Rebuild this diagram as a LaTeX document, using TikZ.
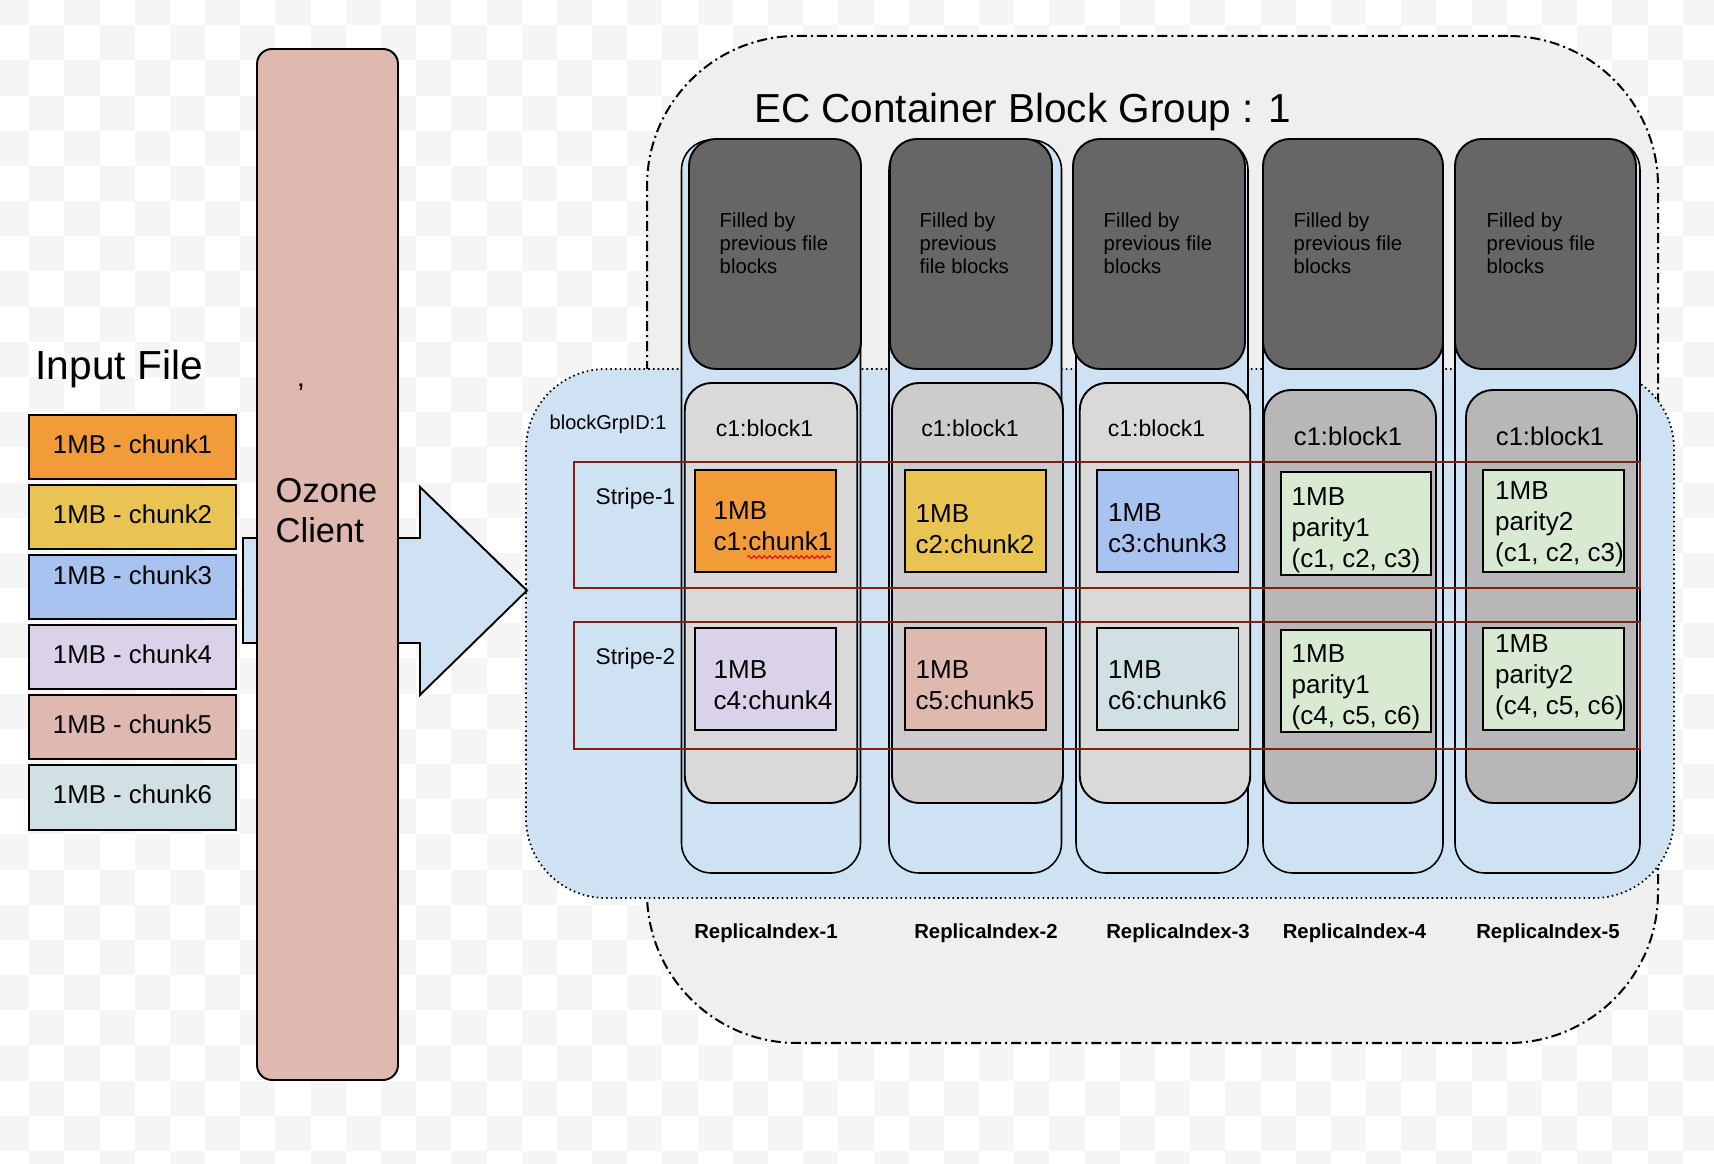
\documentclass[tikz,border=0pt]{standalone}
\usepackage{fontspec}
\setmainfont{Liberation Sans}
\usetikzlibrary{decorations.pathmorphing}
\definecolor{chk}{HTML}{F5F5F5}
\definecolor{grpgrey}{HTML}{EFEFEF}
\definecolor{lblue}{HTML}{CFE2F3}
\definecolor{dgrey}{HTML}{666666}
\definecolor{bgrey1}{HTML}{D9D9D9}
\definecolor{bgrey2}{HTML}{CCCCCC}
\definecolor{bgrey3}{HTML}{B7B7B7}
\definecolor{corange}{HTML}{F29B39}
\definecolor{cyellow}{HTML}{EAC452}
\definecolor{cblue}{HTML}{A8C3EF}
\definecolor{cpurple}{HTML}{D9D2E9}
\definecolor{cred}{HTML}{DFB9B0}
\definecolor{ccyan}{HTML}{D0E0E3}
\definecolor{cgreen}{HTML}{D9EAD3}
\definecolor{stripered}{HTML}{85200C}

\begin{document}
\begin{tikzpicture}
  [y=-1cm, every node/.style={inner sep=0pt}, % y runs downwards, 1 unit = 100 px of the drawing
   box/.style={rectangle, draw=black, line width=0.55pt},
   inchunk/.style={box, minimum width=2.07cm, minimum height=0.64cm, text depth=0.06cm, font=\fontsize{7.34pt}{8.8pt}\selectfont},
   column/.style={draw=black, line width=0.45pt, fill=lblue, rounded corners=0.3cm, minimum height=7.33cm},
   prevblk/.style={draw=black, line width=0.55pt, fill=dgrey, rounded corners=0.27cm, minimum height=2.30cm},
   prevtxt/.style={anchor=north west, align=left, font=\fontsize{5.78pt}{6.54pt}\selectfont},
   ecblk/.style={draw=black, line width=0.55pt, rounded corners=0.27cm},
   ecchunk/.style={box, minimum width=1.41cm, minimum height=1.02cm},
   ectext/.style={anchor=west, align=left, font=\fontsize{7.4pt}{8.82pt}\selectfont},
   blklabel/.style={anchor=base, font=\fontsize{6.54pt}{8pt}\selectfont},
   stripebox/.style={draw=stripered, line width=0.55pt, minimum width=10.66cm},
   replica/.style={anchor=base, font=\fontsize{5.78pt}{7pt}\selectfont\bfseries}]

  \useasboundingbox (0,0) rectangle (17.14,11.64);
  \fill[white] (0,0) rectangle (17.14,11.64);
  \foreach \i in {0,...,49}
    \foreach \j in {0,...,16}
      \fill[chk] ({-0.06+0.3518*\i},{-0.10+0.3518*(2*\j+mod(\i,2))}) rectangle ++(0.3518,0.3518);

  % container group
  \node[draw=black, fill=grpgrey, line width=0.57pt, dash pattern=on 2.85pt off 1.14pt on 0.57pt off 1.14pt,
        rounded corners=1.5cm, minimum width=10.11cm, minimum height=10.07cm] (grp) at (11.525,5.395) {};
  \node[anchor=base west, font=\fontsize{11.52pt}{13pt}\selectfont] (title) at (7.535,1.23) {EC Container Block Group : 1};

  \node[draw=black, fill=lblue, line width=0.5pt, dash pattern=on 0.45pt off 0.9pt,
        rounded corners=0.8cm, minimum width=11.48cm, minimum height=5.29cm] (bgrp) at (11.0,6.335) {};
  \node[anchor=base west, font=\fontsize{5.69pt}{7pt}\selectfont] (gid) at (5.49,4.30) {blockGrpID:1};

  \node[column, minimum width=1.79cm] (r1) at (7.71,5.065) {};
  \node[column, minimum width=1.725cm] (r2) at (9.7525,5.065) {};
  \node[column, minimum width=1.72cm] (r3) at (11.62,5.065) {};
  \node[column, minimum width=1.80cm] (r4) at (13.53,5.065) {};
  \node[column, minimum width=1.85cm] (r5) at (15.475,5.065) {};

  \node[prevblk, minimum width=1.72cm] (p1) at (7.75,2.54) {};
  \node[prevblk, minimum width=1.62cm] (p2) at (9.71,2.54) {};
  \node[prevblk, minimum width=1.72cm] (p3) at (11.59,2.54) {};
  \node[prevblk, minimum width=1.80cm] (p4) at (13.53,2.54) {};
  \node[prevblk, minimum width=1.81cm] (p5) at (15.455,2.54) {};
  \node[prevtxt] (pt1) at (7.19,2.12) {Filled by\\previous file\\blocks};
  \node[prevtxt] (pt2) at (9.19,2.12) {Filled by\\previous\\file blocks};
  \node[prevtxt] (pt3) at (11.03,2.12) {Filled by\\previous file\\blocks};
  \node[prevtxt] (pt4) at (12.93,2.12) {Filled by\\previous file\\blocks};
  \node[prevtxt] (pt5) at (14.86,2.12) {Filled by\\previous file\\blocks};

  \node[ecblk, fill=bgrey1, minimum width=1.725cm, minimum height=4.20cm] (b1) at (7.71,5.93) {};
  \node[ecblk, fill=bgrey2, minimum width=1.71cm, minimum height=4.20cm] (b2) at (9.775,5.93) {};
  \node[ecblk, fill=bgrey1, minimum width=1.705cm, minimum height=4.20cm] (b3) at (11.65,5.93) {};
  \node[ecblk, fill=bgrey3, minimum width=1.72cm, minimum height=4.13cm] (b4) at (13.50,5.965) {};
  \node[ecblk, fill=bgrey3, minimum width=1.71cm, minimum height=4.13cm] (b5) at (15.515,5.965) {};
  \node[blklabel] (bl1) at (7.645,4.37) {c1:block1};
  \node[blklabel] (bl2) at (9.70,4.37) {c1:block1};
  \node[blklabel] (bl3) at (11.565,4.37) {c1:block1};
  \node[blklabel, font=\fontsize{7.28pt}{9pt}\selectfont] (bl4) at (13.48,4.46) {c1:block1};
  \node[blklabel, font=\fontsize{7.28pt}{9pt}\selectfont] (bl5) at (15.50,4.46) {c1:block1};

  % data and parity chunks
  \node[ecchunk, fill=corange] (d1) at (7.655,5.21) {};
  \node[ecchunk, fill=cyellow] (d2) at (9.755,5.21) {};
  \node[ecchunk, fill=cblue, minimum width=1.415cm] (d3) at (11.6775,5.21) {};
  \node[ecchunk, fill=cpurple] (d4) at (7.655,6.79) {};
  \node[ecchunk, fill=cred] (d5) at (9.755,6.79) {};
  \node[ecchunk, fill=ccyan, minimum width=1.415cm] (d6) at (11.6775,6.79) {};
  \node[ecchunk, fill=cgreen, minimum width=1.50cm, minimum height=1.03cm] (q1) at (13.56,5.235) {};
  \node[ecchunk, fill=cgreen] (q2) at (15.535,5.21) {};
  \node[ecchunk, fill=cgreen, minimum width=1.50cm] (q3) at (13.56,6.81) {};
  \node[ecchunk, fill=cgreen] (q4) at (15.535,6.79) {};
  \node[ectext] (dt1) at (7.13,5.26) {1MB\\c1:chunk1};
  \node[ectext] (dt2) at (9.15,5.29) {1MB\\c2:chunk2};
  \node[ectext] (dt3) at (11.075,5.28) {1MB\\c3:chunk3};
  \node[ectext] (dt4) at (7.13,6.85) {1MB\\c4:chunk4};
  \node[ectext] (dt5) at (9.15,6.85) {1MB\\c5:chunk5};
  \node[ectext] (dt6) at (11.075,6.85) {1MB\\c6:chunk6};
  \node[ectext] (qt1) at (12.91,5.30) {1MB\\parity1\\(c1, c2, c3)};
  \node[ectext] (qt2) at (14.945,5.24) {1MB\\parity2\\(c1, c2, c3)};
  \node[ectext] (qt3) at (12.91,6.87) {1MB\\parity1\\(c4, c5, c6)};
  \node[ectext] (qt4) at (14.945,6.77) {1MB\\parity2\\(c4, c5, c6)};
  \draw[decorate, decoration={snake, amplitude=0.4pt, segment length=1.5pt}, draw=red, line width=0.3pt] (7.47,5.57) -- (8.31,5.57);

  \node[stripebox, minimum height=1.26cm] (s1) at (11.07,5.25) {};
  \node[stripebox, minimum height=1.27cm] (s2) at (11.07,6.855) {};
  \node[anchor=base west, font=\fontsize{6.46pt}{8pt}\selectfont] (sl1) at (5.95,5.05) {Stripe-1};
  \node[anchor=base west, font=\fontsize{6.46pt}{8pt}\selectfont] (sl2) at (5.95,6.65) {Stripe-2};

  \node[replica] (ri1) at (7.66,9.39) {ReplicaIndex-1};
  \node[replica] (ri2) at (9.86,9.39) {ReplicaIndex-2};
  \node[replica] (ri3) at (11.78,9.39) {ReplicaIndex-3};
  \node[replica] (ri4) at (13.545,9.39) {ReplicaIndex-4};
  \node[replica] (ri5) at (15.48,9.39) {ReplicaIndex-5};

  % input file
  \node[anchor=base west, font=\fontsize{11.55pt}{13pt}\selectfont] (inp) at (0.35,3.80) {Input File};
  \node[inchunk, fill=corange] (c1) at (1.325,4.47) {1MB - chunk1};
  \node[inchunk, fill=cyellow] (c2) at (1.325,5.17) {1MB - chunk2};
  \node[inchunk, fill=cblue, text depth=0.24cm] (c3) at (1.325,5.87) {1MB - chunk3};
  \node[inchunk, fill=cpurple] (c4) at (1.325,6.57) {1MB - chunk4};
  \node[inchunk, fill=cred] (c5) at (1.325,7.27) {1MB - chunk5};
  \node[inchunk, fill=ccyan, minimum height=0.65cm] (c6) at (1.325,7.975) {1MB - chunk6};

  % client and arrow
  \draw[fill=lblue, line width=0.55pt] (2.43,5.38) -- (4.20,5.38) -- (4.20,4.87) -- (5.27,5.905)
    -- (4.20,6.95) -- (4.20,6.43) -- (2.43,6.43) -- cycle;
  \node[draw=black, fill=cred, line width=0.55pt, rounded corners=0.15cm, minimum width=1.41cm, minimum height=10.31cm] (oz) at (3.275,5.645) {};
  \node[anchor=west, align=left, font=\fontsize{9.82pt}{11.38pt}\selectfont] (ozt) at (2.75,5.11) {Ozone\\Client};
  \node[anchor=base, font=\fontsize{8.5pt}{10pt}\selectfont] (tick) at (3.01,4.05) {’};

\end{tikzpicture}
\end{document}
